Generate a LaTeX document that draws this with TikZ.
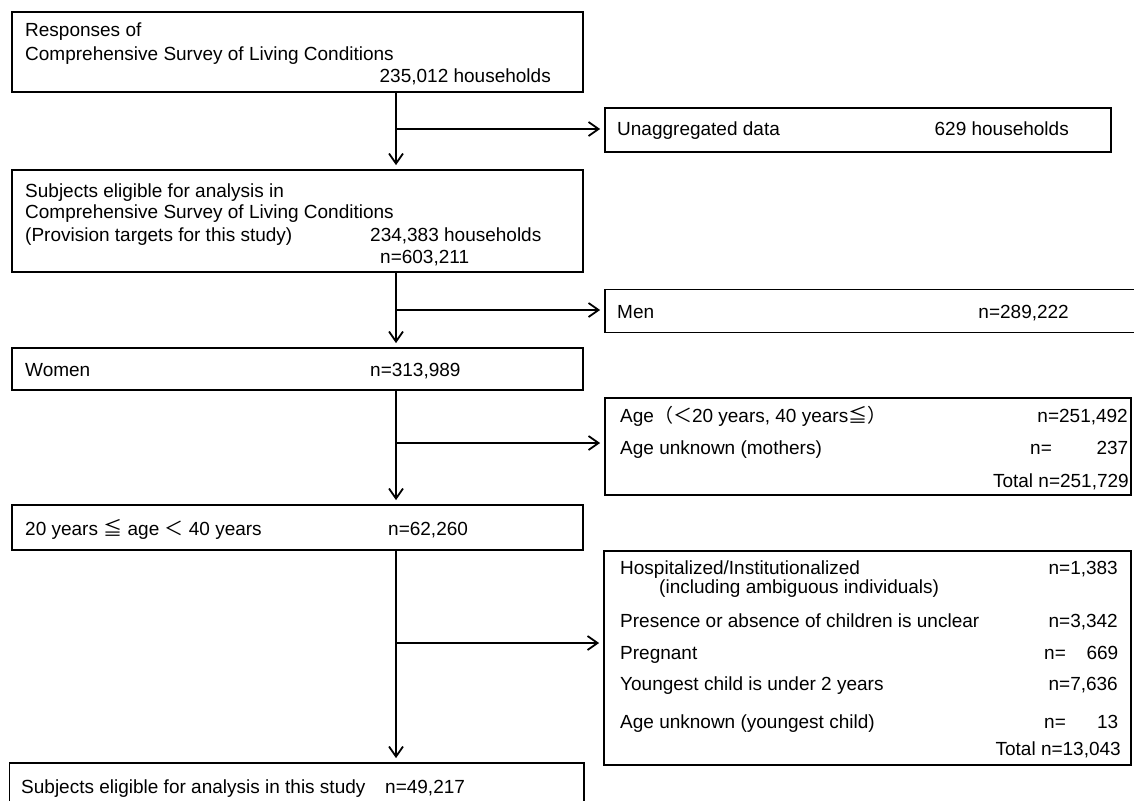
\documentclass[tikz,border=0pt]{standalone}
\usepackage{fontspec}
\setmainfont{Liberation Sans}
\newfontfamily\cjk{Noto Sans CJK JP}
\usetikzlibrary{arrows.meta, positioning}
\newcommand{\ncol}[2]{\makebox[#1]{n=\hfill#2}}

\begin{document}
\begin{tikzpicture}[
  x=1pt, y=-1pt,
  box/.style={rectangle, draw, line width=1.8pt, minimum width=#1, inner sep=0pt},
  txt/.style={anchor=base west, inner sep=0pt},
  rtxt/.style={anchor=base east, inner sep=0pt},
  flow/.style={line width=1.8pt, -{Straight Barb[length=10pt, width=14pt]}, shorten >=4pt},
  font=\fontsize{19}{22}\selectfont,
]
  \useasboundingbox (0,0) rectangle (1134,800);

  % left column
  \node[box=571pt, minimum height=80pt] (resp) at (297.5, 52) {};
  \node[box=571pt, minimum height=102pt] (elig) at (297.5, 221) {};
  \node[box=571pt, minimum height=42pt] (women) at (297.5, 369) {};
  \node[box=571pt, minimum height=45pt] (age) at (297.5, 527.5) {};
  \node[box=574.5pt, minimum height=57pt] (final) at (296.75, 791.5) {};

  % right column
  \node[box=506pt, minimum height=44pt] (unagg) at (858, 130) {};
  \node[box=540pt, minimum height=43pt] (men) at (875, 311) {};
  \node[box=526pt, minimum height=97pt] (agex) at (868, 446.5) {};
  \node[box=527pt, minimum height=214pt] (excl) at (867.5, 658) {};

  % texts
  \node[txt] (resp1) at (25, 37) {Responses of};
  \node[txt] (resp2) at (25, 60) {Comprehensive Survey of Living Conditions};
  \node[rtxt] (resp3) at (551, 82) {235,012 households};

  \node[txt] (unagg1) at (617, 135) {Unaggregated data};
  \node[rtxt] (unagg2) at (1069, 135) {629 households};

  \node[txt] (elig1) at (25, 197) {Subjects eligible for analysis in};
  \node[txt] (elig2) at (25, 218) {Comprehensive Survey of Living Conditions};
  \node[txt] (elig3) at (25, 241) {(Provision targets for this study)};
  \node[txt] (elig4) at (370, 241) {234,383 households};
  \node[txt] (elig5) at (380, 263) {n=603,211};

  \node[txt] (men1) at (617, 318) {Men};
  \node[rtxt] (men2) at (1069, 318) {n=289,222};

  \node[txt] (women1) at (25, 376) {Women};
  \node[txt] (women2) at (370, 376) {n=313,989};

  \node[txt] (agex1) at (620, 422) {Age{\cjk （＜}20 years, 40 years{\cjk ≦）}};
  \node[rtxt] (agex2) at (1128, 422) {n=251,492};
  \node[txt] (agex3) at (620, 454) {Age unknown (mothers)};
  \node[txt] (agex4) at (1030, 454) {\ncol{98pt}{237}};
  \node[rtxt] (agex5) at (1129, 487) {Total n=251,729};

  \node[txt] (age1) at (25, 535) {20 years {\cjk ≦} age {\cjk ＜} 40 years};
  \node[txt] (age2) at (388, 535) {n=62,260};

  \node[txt] (excl1) at (620, 574) {Hospitalized/Institutionalized};
  \node[txt] (excl2) at (659, 593) {(including ambiguous individuals)};
  \node[txt] (excl3) at (620, 627) {Presence or absence of children is unclear};
  \node[txt] (excl4) at (620, 659) {Pregnant};
  \node[txt] (excl5) at (620, 690) {Youngest child is under 2 years};
  \node[txt] (excl6) at (620, 728) {Age unknown (youngest child)};
  \node[rtxt] (excln1) at (1118, 574) {n=1,383};
  \node[rtxt] (excln2) at (1118, 627) {n=3,342};
  \node[txt] (excln3) at (1044, 659) {\ncol{74pt}{669}};
  \node[rtxt] (excln4) at (1118, 690) {n=7,636};
  \node[txt] (excln5) at (1044, 728) {\ncol{74pt}{13}};
  \node[rtxt] (excl7) at (1121, 755) {Total n=13,043};

  \node[txt] (final1) at (21, 793) {Subjects eligible for analysis in this study};
  \node[txt] (final2) at (385, 793) {n=49,217};

  % main line and branches
  \coordinate (spine) at (396, 0);
  \coordinate (b1) at (396, 129);
  \coordinate (b2) at (396, 310);
  \coordinate (b3) at (396, 443);
  \coordinate (b4) at (396, 643);

  \draw[flow] (spine |- resp.south) -- (spine |- elig.north);
  \draw[flow] (spine |- elig.south) -- (spine |- women.north);
  \draw[flow] (spine |- women.south) -- (spine |- age.north);
  \draw[flow] (spine |- age.south) -- (spine |- final.north);

  \draw[flow] (b1) -- (b1 -| unagg.west);
  \draw[flow] (b2) -- (b2 -| men.west);
  \draw[flow] (b3) -- (b3 -| agex.west);
  \draw[flow] (b4) -- (b4 -| excl.west);
\end{tikzpicture}
\end{document}
